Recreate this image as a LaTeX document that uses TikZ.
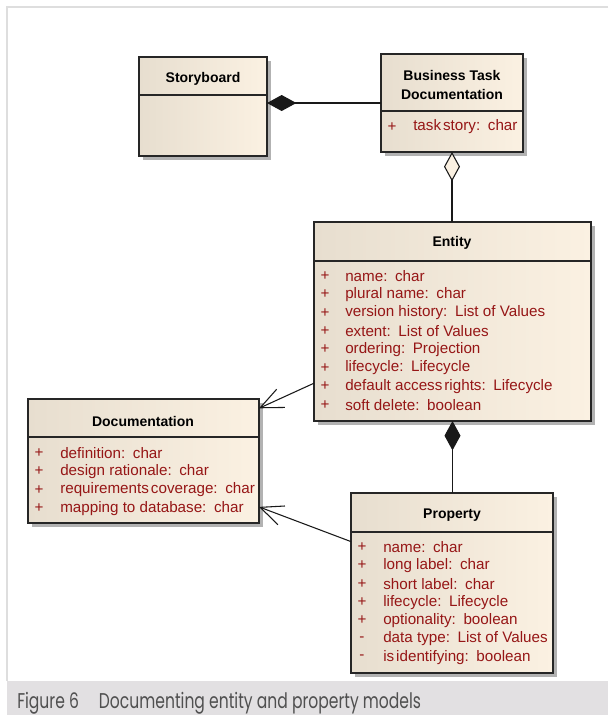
\documentclass[tikz,border=0pt]{standalone}
\usepackage{fontspec}
\setmainfont{Liberation Sans}
\newfontfamily\capfont[FakeStretch=0.73]{Poppins}
\usetikzlibrary{arrows.meta,fit,calc}

\definecolor{beigeL}{RGB}{231,222,207}
\definecolor{beigeR}{RGB}{251,241,226}
\definecolor{attrc}{RGB}{150,22,22}
\definecolor{shadowc}{RGB}{178,178,178}
\definecolor{framec}{RGB}{222,222,222}
\definecolor{bandc}{RGB}{226,224,226}
\definecolor{captc}{RGB}{80,80,80}

\tikzset{
  x=0.75pt, y=-0.75pt,
  classbox/.style={draw=black!85, line width=1.1pt, left color=beigeL, right color=beigeR, inner sep=0pt, outer sep=0pt},
  divider/.style={draw=black!85, line width=0.9pt},
  hdr/.style={font=\bfseries\fontsize{10.5}{14.2}\selectfont, align=center, inner sep=0pt},
  attr/.style={text=attrc, font=\fontsize{11.4}{13}\selectfont, anchor=west, inner sep=0pt},
  sign/.style={text=attrc, font=\fontsize{11.4}{13}\selectfont, anchor=center, inner sep=0pt},
  link/.style={line width=0.8pt, draw=black!90},
  compo/.style={link, {Diamond[length=22pt,width=12pt]}-},
  aggr/.style={link, {Diamond[open,fill=beigeR,length=22pt,width=12pt]}-},
  assoc/.style={link, -{Straight Barb[length=17pt,width=15pt,line width=0.8pt]}},
}

% class box: name, x1, y1, x2, y2, divider y
\newcommand{\umlbox}[6]{%
  \fill[shadowc] ({#2+4},{#3+4}) rectangle ({#4+4},{#5+4});
  \node[classbox, fit={(#2,#3)(#4,#5)}] (#1) {};
  \draw[divider] (#2,#6) -- (#4,#6);
}

\begin{document}
\begin{tikzpicture}
\useasboundingbox (0,0) rectangle (608,715);
\fill[white] (0,0) rectangle (608,715);

% frame and caption band
\draw[framec, line width=1.5pt] (608,7) -- (7,7) -- (7,681);
\fill[bandc] (7,681) rectangle (608,715);
\node[anchor=base west, inner sep=0pt, text=captc, font=\capfont\fontsize{16}{18}\selectfont]
  (caption) at (17,708) {Figure 6\hspace{15pt}Documenting entity and property models};

% Storyboard
\umlbox{story}{139}{57}{267}{156}{95}
\node[hdr] (storyh) at (203,79) {Storyboard};

% Business Task Documentation
\umlbox{btd}{381}{54}{523}{152}{111}
\node[hdr] (btdh) at (452,85) {Business Task\\Documentation};
\node[sign] (btds1) at (392,127) {+};
\node[attr] (btdt1) at (413,127) {task\hspace{1.5pt}story:\enspace char};

% Entity
\umlbox{entity}{314}{222}{591}{421}{261}
\node[hdr] (entityh) at (452,243) {Entity};
\foreach \s/\t [count=\i] in {
  +/{name:\enspace char},
  +/{plural name:\enspace char},
  +/{version history:\enspace List of Values},
  +/{extent:\enspace List of Values},
  +/{ordering:\enspace Projection},
  +/{lifecycle:\enspace Lifecycle},
  +/{default access\hspace{1.5pt}rights:\enspace Lifecycle},
  +/{soft delete:\enspace boolean}} {
  \node[sign] (ents\i) at (325,{276+18.4*(\i-1)}) {\s};
  \node[attr] (entt\i) at (345,{276+18.4*(\i-1)}) {\t};
}

% Documentation
\umlbox{doc}{28}{399}{259}{523}{437}
\node[hdr] (doch) at (143,421) {Documentation};
\foreach \s/\t [count=\i] in {
  +/{definition:\enspace char},
  +/{design rationale:\enspace char},
  +/{requirements\hspace{1.5pt}coverage:\enspace char},
  +/{mapping to database:\enspace char}} {
  \node[sign] (docs\i) at (39,{453+18.4*(\i-1)}) {\s};
  \node[attr] (doct\i) at (60,{453+18.4*(\i-1)}) {\t};
}

% Property
\umlbox{prop}{351}{493}{553}{673}{532}
\node[hdr] (proph) at (452,515) {Property};
\foreach \s/\t [count=\i] in {
  +/{name:\enspace char},
  +/{long label:\enspace char},
  +/{short label:\enspace char},
  +/{lifecycle:\enspace Lifecycle},
  +/{optionality:\enspace boolean},
  -/{data type:\enspace List of Values},
  -/{is\hspace{1.5pt}identifying:\enspace boolean}} {
  \node[sign] (props\i) at (362,{547+18.4*(\i-1)}) {\s};
  \node[attr] (propt\i) at (383,{547+18.4*(\i-1)}) {\t};
}

% connector end points on box edges
\coordinate (e2d) at ($(entity.north west)!0.81!(entity.south west)$);
\coordinate (d1) at ($(doc.north east)!0.075!(doc.south east)$);
\coordinate (p2d) at ($(prop.north west)!0.27!(prop.south west)$);
\coordinate (d2) at ($(doc.north east)!0.87!(doc.south east)$);

% connectors
\draw[compo] (story.east |- btd.west) -- (btd.west);
\draw[aggr] (btd.south) -- (btd.south |- entity.north);
\draw[compo] (entity.south) -- (entity.south |- prop.north);
\draw[assoc] (e2d) -- (d1);
\draw[assoc] (p2d) -- (d2);
\end{tikzpicture}
\end{document}
